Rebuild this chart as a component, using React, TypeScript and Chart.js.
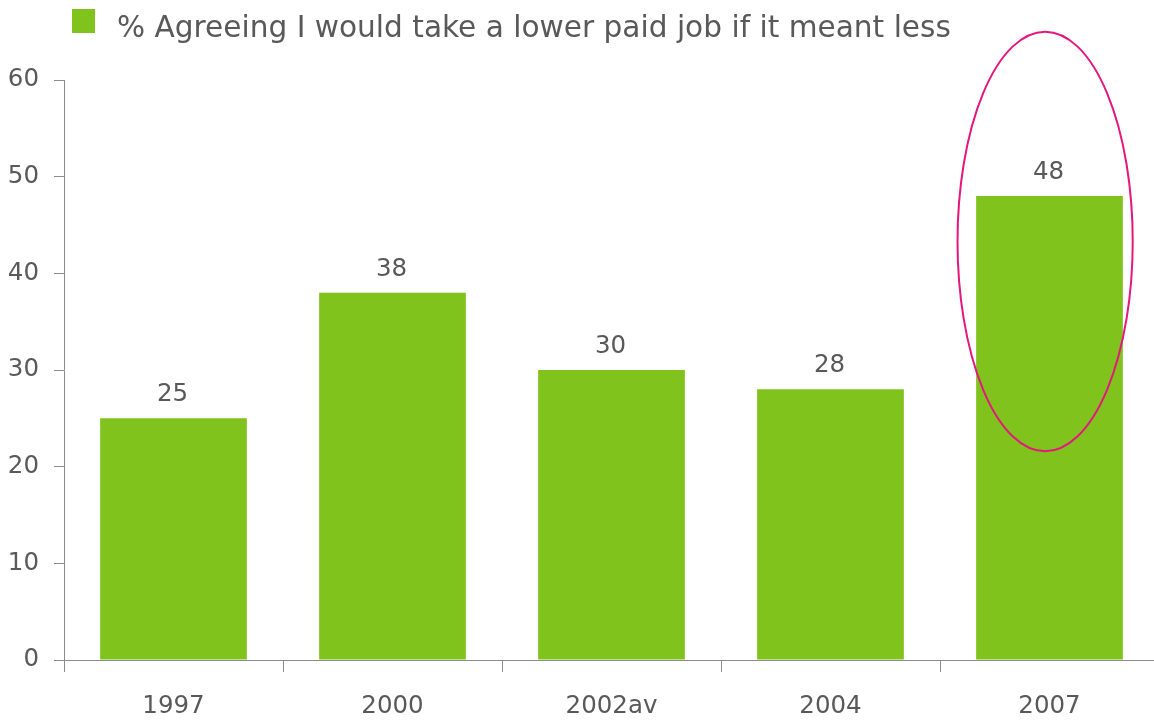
import React, { useEffect, useRef } from "react";
import { Chart, registerables } from "chart.js";

Chart.register(...registerables);

const categories = ["1997", "2000", "2002av", "2004", "2007"];
const values = [25, 38, 30, 28, 48];
const seriesLabel = "% Agreeing I would take a lower paid job if it meant less";
const yTicks = [0, 10, 20, 30, 40, 50, 60];
// highlight ellipse in data units: [category index, value, half-width in categories, half-height in values]
const highlightEllipse = [3.98, 43.3, 0.4, 21.7];

const GREEN = "#81C31D";
const TEXT = "#595959";
const AXIS = "#8C8C8C";
const MAGENTA = "#E4177F";
const FONT = "'DejaVu Sans', Verdana, sans-serif";

export default function App() {
  const ref = useRef<HTMLCanvasElement | null>(null);

  useEffect(() => {
    document.body.style.margin = "0";
    const canvas = ref.current;
    if (!canvas) return;

    const valueLabels = {
      id: "valueLabels",
      afterDatasetsDraw(chart: any) {
        const ctx = chart.ctx;
        const meta = chart.getDatasetMeta(0);
        ctx.save();
        ctx.fillStyle = TEXT;
        ctx.font = `24.5px ${FONT}`;
        ctx.textAlign = "center";
        ctx.textBaseline = "alphabetic";
        meta.data.forEach((el: any, i: number) => {
          ctx.fillText(String(values[i]), el.x - 1, el.y - 17);
        });
        ctx.restore();
      },
    };

    const highlight = {
      id: "highlight",
      afterDraw(chart: any) {
        const ctx = chart.ctx;
        const xs = chart.scales.x;
        const ys = chart.scales.y;
        const [ci, v, rc, rv] = highlightEllipse;
        const cx = xs.getPixelForValue(ci);
        const catW = xs.getPixelForValue(1) - xs.getPixelForValue(0);
        const cy = ys.getPixelForValue(v);
        const ry = Math.abs(ys.getPixelForValue(v + rv) - cy);
        ctx.save();
        ctx.strokeStyle = MAGENTA;
        ctx.lineWidth = 2;
        ctx.beginPath();
        ctx.ellipse(cx, cy, rc * catW, ry, 0, 0, Math.PI * 2);
        ctx.stroke();
        ctx.restore();
      },
    };

    const customLegend = {
      id: "customLegend",
      afterDraw(chart: any) {
        const ctx = chart.ctx;
        ctx.save();
        ctx.fillStyle = GREEN;
        ctx.fillRect(72, 9, 23, 24);
        ctx.fillStyle = TEXT;
        ctx.font = `29.6px ${FONT}`;
        ctx.textAlign = "left";
        ctx.textBaseline = "alphabetic";
        ctx.fillText(seriesLabel, 117, 37);
        ctx.restore();
      },
    };

    const chart = new Chart(canvas, {
      type: "bar",
      data: {
        labels: categories,
        datasets: [
          {
            label: seriesLabel,
            data: values,
            backgroundColor: GREEN,
            borderWidth: 0,
            inflateAmount: 0,
            barPercentage: 0.67,
            categoryPercentage: 1,
          },
        ],
      },
      options: {
        responsive: false,
        animation: false,
        devicePixelRatio: 1,
        layout: { padding: { top: 80, left: 0, right: 0, bottom: 0 } },
        plugins: {
          legend: { display: false },
          tooltip: { enabled: false },
          title: { display: false },
        },
        scales: {
          x: {
            grid: {
              display: true,
              drawOnChartArea: false,
              drawTicks: true,
              tickLength: 12,
              color: AXIS,
              offset: true,
            },
            border: { display: true, color: AXIS, width: 1 },
            ticks: {
              color: TEXT,
              font: { family: FONT, size: 24.5 },
              padding: 20,
              maxRotation: 0,
            },
            afterFit: (s: any) => {
              s.height = 61;
            },
          },
          y: {
            min: 0,
            max: 60,
            afterBuildTicks: (s: any) => {
              s.ticks = yTicks.map((v) => ({ value: v }));
            },
            grid: {
              display: true,
              drawOnChartArea: false,
              drawTicks: true,
              tickLength: 10,
              color: AXIS,
            },
            border: { display: true, color: AXIS, width: 1 },
            ticks: {
              color: TEXT,
              font: { family: FONT, size: 24.5 },
              padding: 15,
            },
            afterFit: (s: any) => {
              s.width = 64;
            },
          },
        },
      },
      plugins: [valueLabels, highlight, customLegend],
    });

    return () => chart.destroy();
  }, []);

  return (
    <div
      style={{
        position: "absolute",
        left: 0,
        top: 0,
        width: 1154,
        height: 721,
        overflow: "hidden",
        background: "#fff",
      }}
    >
      <canvas
        ref={ref}
        width={1159}
        height={721}
        style={{ width: 1159, height: 721, display: "block" }}
      />
    </div>
  );
}
